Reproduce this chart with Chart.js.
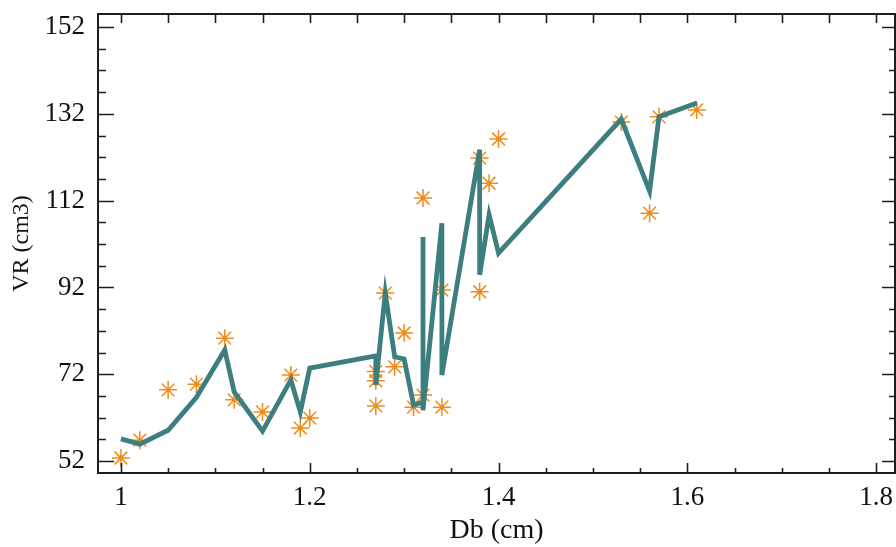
<!DOCTYPE html>
<html>
<head>
<meta charset="utf-8">
<script src="https://cdn.jsdelivr.net/npm/chart.js@4"></script>
<style>
html,body{margin:0;padding:0;background:#fff;}
#c{display:block;}
</style>
</head>
<body>
<canvas id="c" width="896" height="547"></canvas>
<script>
// Model line (sorted by Db)
const lineDb = [1.00,1.02,1.05,1.08,1.11,1.12,1.15,1.18,1.19,1.20,1.27,1.27,1.28,1.29,1.30,1.31,1.32,1.32,1.32,1.34,1.34,1.38,1.38,1.39,1.40,1.53,1.56,1.57,1.61];
const lineVR = [57.1,55.9,59.1,66.7,77.6,67.9,58.9,70.7,63.3,73.4,76.2,69.5,90.7,76.0,75.5,64.9,65.6,103.6,63.7,106.8,71.8,123.7,94.9,108.7,99.9,130.8,114.2,131.3,134.5];
// Observed points
const obsDb = [1.00,1.02,1.05,1.08,1.11,1.12,1.15,1.18,1.19,1.20,1.27,1.27,1.27,1.28,1.29,1.30,1.31,1.32,1.32,1.34,1.34,1.38,1.38,1.39,1.40,1.53,1.56,1.57,1.61];
const obsVR = [52.7,56.8,68.4,69.7,80.3,66.1,63.3,71.8,59.6,61.9,72.6,70.5,64.7,90.7,73.7,81.5,64.4,67.2,112.6,64.4,91.4,91.0,121.8,116.0,126.2,130.1,109.1,131.3,132.9];
// Tick labels
const xTicks = [1, 1.2, 1.4, 1.6, 1.8];
const yTicks = [52, 72, 92, 112, 132, 152];
const xMinorStep = 0.05;
const yMinorStep = 5;

const AXIS = '#1e1e1e';
const TEAL = '#3d7e7f';
const ORANGE = '#ef8c1c';
const FONT = "'Liberation Serif', 'Times New Roman', serif";

const framePlugin = {
  id: 'frame',
  afterDatasetsDraw(chart) {
    const ctx = chart.ctx, a = chart.chartArea;
    const xs = chart.scales.x, ys = chart.scales.y;
    ctx.save();
    ctx.strokeStyle = AXIS;
    ctx.lineWidth = 2;
    ctx.strokeRect(a.left, a.top, a.right - a.left, a.bottom - a.top);
    ctx.lineWidth = 1.6;
    ctx.beginPath();
    for (let k = 0; ; k++) {
      const v = +(xTicks[0] + k * xMinorStep).toFixed(4);
      if (v > xTicks[xTicks.length - 1] + 1e-9) break;
      const major = xTicks.some(t => Math.abs(t - v) < 1e-6);
      const px = Math.round(xs.getPixelForValue(v)) + 0.5;
      ctx.moveTo(px, a.bottom); ctx.lineTo(px, a.bottom - (major ? 10 : 5));
      ctx.moveTo(px, a.top); ctx.lineTo(px, a.top + 9);
    }
    for (let k = 0; ; k++) {
      const v = yTicks[0] + k * yMinorStep;
      if (v > yTicks[yTicks.length - 1]) break;
      const major = yTicks.includes(v);
      const py = Math.round(ys.getPixelForValue(v)) + 0.5;
      ctx.moveTo(a.left, py); ctx.lineTo(a.left + (major ? 16 : 8), py);
      ctx.moveTo(a.right, py); ctx.lineTo(a.right - (major ? 13 : 6), py);
    }
    ctx.stroke();
    ctx.restore();
  }
};

new Chart(document.getElementById('c'), {
  type: 'scatter',
  data: {
    datasets: [
      {
        label: 'Model',
        data: lineDb.map((x, i) => ({x, y: lineVR[i]})),
        showLine: true,
        borderColor: TEAL,
        backgroundColor: TEAL,
        borderWidth: 4.8,
        pointRadius: 0,
        tension: 0,
        borderJoinStyle: 'miter',
        order: 0
      },
      {
        label: 'Observed',
        data: obsDb.map((x, i) => ({x, y: obsVR[i]})),
        pointStyle: 'star',
        pointRadius: 9,
        borderColor: ORANGE,
        backgroundColor: ORANGE,
        pointBorderWidth: 1.5,
        order: 2
      },
      {
        label: 'ObservedCenter',
        data: obsDb.map((x, i) => ({x, y: obsVR[i]})),
        pointStyle: 'circle',
        pointRadius: 2.4,
        borderColor: ORANGE,
        backgroundColor: ORANGE,
        pointBorderWidth: 0,
        order: 1
      }
    ]
  },
  options: {
    responsive: false,
    animation: false,
    layout: { autoPadding: false, padding: { top: 14, right: 1, left: 0, bottom: 0 } },
    plugins: { legend: { display: false }, tooltip: { enabled: false } },
    scales: {
      x: {
        type: 'linear',
        min: 0.9757,
        max: 1.82,
        afterBuildTicks: s => { s.ticks = xTicks.map(v => ({ value: v })); },
        afterFit: s => { s.height = 74; s.paddingLeft = 0; s.paddingRight = 0; },
        grid: { display: false, drawTicks: false },
        border: { display: false },
        ticks: {
          color: '#111',
          padding: 9,
          font: { family: FONT, size: 27 },
          callback: v => String(v)
        },
        title: {
          display: true,
          text: 'Db (cm)',
          color: '#111',
          font: { family: FONT, size: 28 },
          padding: { top: 0, bottom: 0 }
        }
      },
      y: {
        type: 'linear',
        min: 49.24,
        max: 155.0,
        afterBuildTicks: s => { s.ticks = yTicks.map(v => ({ value: v })); },
        afterFit: s => { s.width = 98; s.paddingTop = 0; s.paddingBottom = 0; },
        grid: { display: false, drawTicks: false },
        border: { display: false },
        ticks: {
          color: '#111',
          padding: 13,
          font: { family: FONT, size: 27 },
          callback: v => String(v)
        },
        title: {
          display: true,
          text: 'VR (cm3)',
          color: '#111',
          font: { family: FONT, size: 24 },
          padding: { top: 7, bottom: 0 }
        }
      }
    }
  },
  plugins: [framePlugin]
});
</script>
</body>
</html>
